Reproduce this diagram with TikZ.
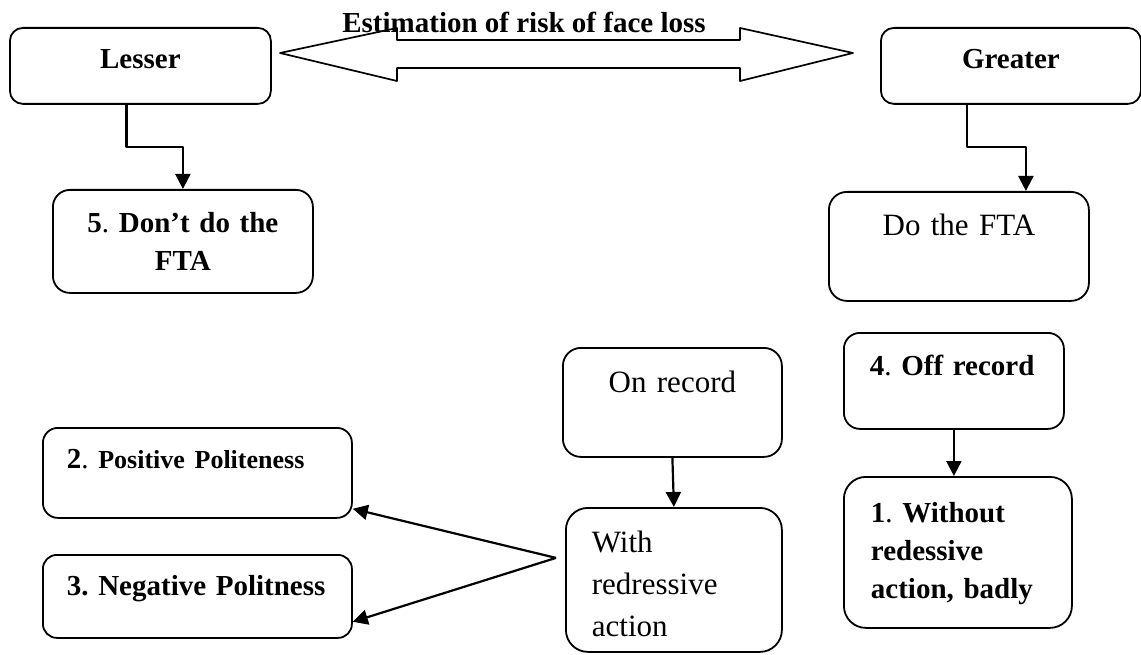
\documentclass[tikz,border=0pt]{standalone}
\usepackage{fontspec}
\setmainfont{Liberation Serif}
\usetikzlibrary{arrows.meta}
\begin{document}
\begin{tikzpicture}[x=1pt, y=-1pt, line join=round, >={Triangle[length=15pt,width=15pt]},
	box/.style={draw, line width=1.8pt, anchor=north west, inner ysep=0pt, inner xsep=0pt, align=center},
	lbox/.style={box, align=left},
	bf/.style={font={\fontsize{29pt}{38pt}\selectfont\bfseries\frenchspacing\hyphenpenalty=10000\relax}},
	rm/.style={font={\fontsize{31pt}{42pt}\selectfont\frenchspacing\hyphenpenalty=10000\relax}},
	link/.style={->, line width=2.2pt}]
	\useasboundingbox (0,0) rectangle (1141,655);
	\node[box, bf, rounded corners=13pt, text width=261pt, text height=41pt, text depth=35pt] (lesser) at (9,27) {Lesser};
	\node[box, bf, rounded corners=13pt, text width=260pt, text height=41pt, text depth=35pt] (greater) at (880,27) {Greater};
	\draw[line width=1.7pt] (280,53) -- (397,28) -- (397,40) -- (740,40) -- (740,28) -- (853,53) -- (740,81) -- (740,68) -- (397,68) -- (397,81) -- cycle;
	\node[bf, anchor=base] (risk) at (524,33) {Estimation of risk of face loss};
	\node[box, bf, rounded corners=17pt, text width=260pt, text height=43pt, text depth=60pt] (dont) at (52,189) {5\textmd{.} Don’t do the\\FTA};
	\node[box, rm, rounded corners=18pt, text width=260pt, text height=44pt, text depth=65pt] (dofta) at (828,191) {Do the FTA};
	\node[box, rm, rounded corners=18pt, text width=219pt, text height=45pt, text depth=64pt] (onrec) at (562,347) {On record};
	\node[lbox, bf, rounded corners=16pt, inner xsep=26pt, text width=168pt, text height=43pt, text depth=53pt] (offrec) at (843,332) {4\textmd{.} Off record};
	\node[lbox, bf, rounded corners=22pt, inner xsep=27pt, text width=174pt, text height=46pt, text depth=105pt] (bad) at (843,476) {1\textmd{.} Without\\redessive\\action, badly};
	\node[lbox, rm, rounded corners=22pt, inner xsep=26pt, text width=164pt, text height=45pt, text depth=99pt] (with) at (565,507) {With\\redressive\\action};
	\node[lbox, bf, rounded corners=15pt, inner xsep=24pt, text width=261pt, text height=41pt, text depth=49pt] (pos) at (42,427) {2\textmd{.} {\fontsize{26pt}{38pt}\selectfont Positive Politeness}};
	\node[lbox, bf, rounded corners=14pt, inner xsep=24pt, text width=261pt, text height=41pt, text depth=42pt] (neg) at (42,554) {3. Negative Politness};
	\draw[link] ([xshift=-14pt]lesser.south) -- ++(0,42) -| (dont.north);
	\draw[link] ([xshift=-44pt]greater.south) -- ++(0,42) -| ([xshift=67pt]dofta.north);
	\draw[link] (onrec.south) -- (with.north);
	\draw[link] (offrec.south) -- (offrec.south |- bad.north);
	\coordinate (fork) at ([xshift=-9pt, yshift=22pt]with.west);
	\draw[link] (fork) -- ([yshift=10pt]pos.south east);
	\draw[link] (fork) -- ([yshift=17pt]neg.south east);
\end{tikzpicture}
\end{document}
